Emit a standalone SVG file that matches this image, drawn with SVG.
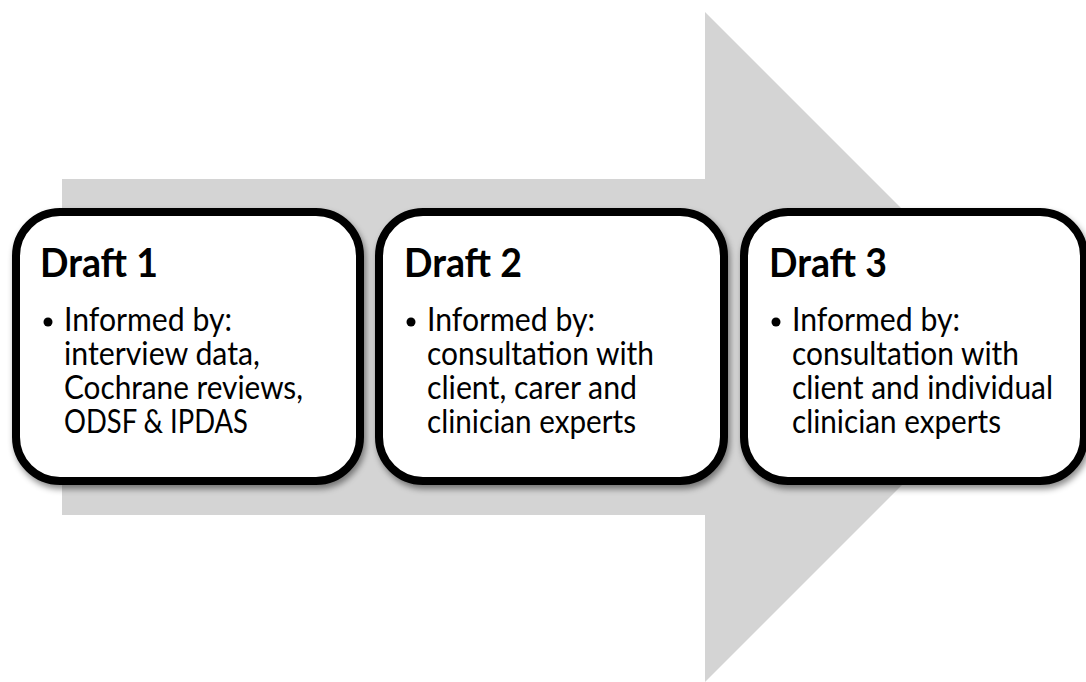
<svg xmlns="http://www.w3.org/2000/svg" width="1086" height="682" viewBox="0 0 1086 682">
  <style>
    .box { fill: #ffffff; stroke: #000000; stroke-width: 8; filter: url(#shadow); }
    .title { font-family: Lato, "Open Sans", "Liberation Sans", sans-serif; font-weight: 700; font-size: 41px; fill: #000000; }
    .body { font-family: Lato, "Open Sans", "Liberation Sans", sans-serif; font-size: 32px; fill: #000000; }
    .bullet { fill: #000000; }
  </style>
  <defs>
    <filter id="shadow" x="-10%" y="-10%" width="125%" height="130%">
      <feDropShadow dx="2" dy="4" stdDeviation="3" flood-color="#000000" flood-opacity="0.45"/>
    </filter>
  </defs>
  <rect width="1086" height="682" fill="#ffffff"/>

  <!-- wide block arrow running behind the three stages -->
  <g id="connectors">
    <polygon points="62,179 705,179 705,12 1040,347 705,682 705,515 62,515" fill="#d4d4d4"/>
  </g>

  <g id="draft1">
    <rect class="box" x="16" y="212" width="344" height="269" rx="44" ry="44"/>
    <text class="title" x="40" y="277" textLength="118" lengthAdjust="spacingAndGlyphs">Draft 1</text>
    <circle class="bullet" cx="48" cy="322" r="4.5"/>
    <text class="body">
      <tspan x="64" y="331" textLength="168" lengthAdjust="spacingAndGlyphs">Informed by:</tspan>
      <tspan x="64" y="365" textLength="196" lengthAdjust="spacingAndGlyphs">interview data,</tspan>
      <tspan x="64" y="399" textLength="239" lengthAdjust="spacingAndGlyphs">Cochrane reviews,</tspan>
      <tspan x="64" y="433" textLength="184" lengthAdjust="spacingAndGlyphs">ODSF &amp; IPDAS</tspan>
    </text>
  </g>

  <g id="draft2">
    <rect class="box" x="379" y="212" width="345" height="269" rx="44" ry="44"/>
    <text class="title" x="404" y="277" textLength="118" lengthAdjust="spacingAndGlyphs">Draft 2</text>
    <circle class="bullet" cx="411" cy="322" r="4.5"/>
    <text class="body">
      <tspan x="427" y="331" textLength="168" lengthAdjust="spacingAndGlyphs">Informed by:</tspan>
      <tspan x="427" y="365" textLength="227" lengthAdjust="spacingAndGlyphs">consultation with</tspan>
      <tspan x="427" y="399" textLength="210" lengthAdjust="spacingAndGlyphs">client, carer and</tspan>
      <tspan x="427" y="433" textLength="209" lengthAdjust="spacingAndGlyphs">clinician experts</tspan>
    </text>
  </g>

  <g id="draft3">
    <rect class="box" x="744" y="212" width="340" height="269" rx="44" ry="44"/>
    <text class="title" x="769" y="277" textLength="118" lengthAdjust="spacingAndGlyphs">Draft 3</text>
    <circle class="bullet" cx="776" cy="322" r="4.5"/>
    <text class="body">
      <tspan x="792" y="331" textLength="168" lengthAdjust="spacingAndGlyphs">Informed by:</tspan>
      <tspan x="792" y="365" textLength="227" lengthAdjust="spacingAndGlyphs">consultation with</tspan>
      <tspan x="792" y="399" textLength="261" lengthAdjust="spacingAndGlyphs">client and individual</tspan>
      <tspan x="792" y="433" textLength="209" lengthAdjust="spacingAndGlyphs">clinician experts</tspan>
    </text>
  </g>
</svg>
